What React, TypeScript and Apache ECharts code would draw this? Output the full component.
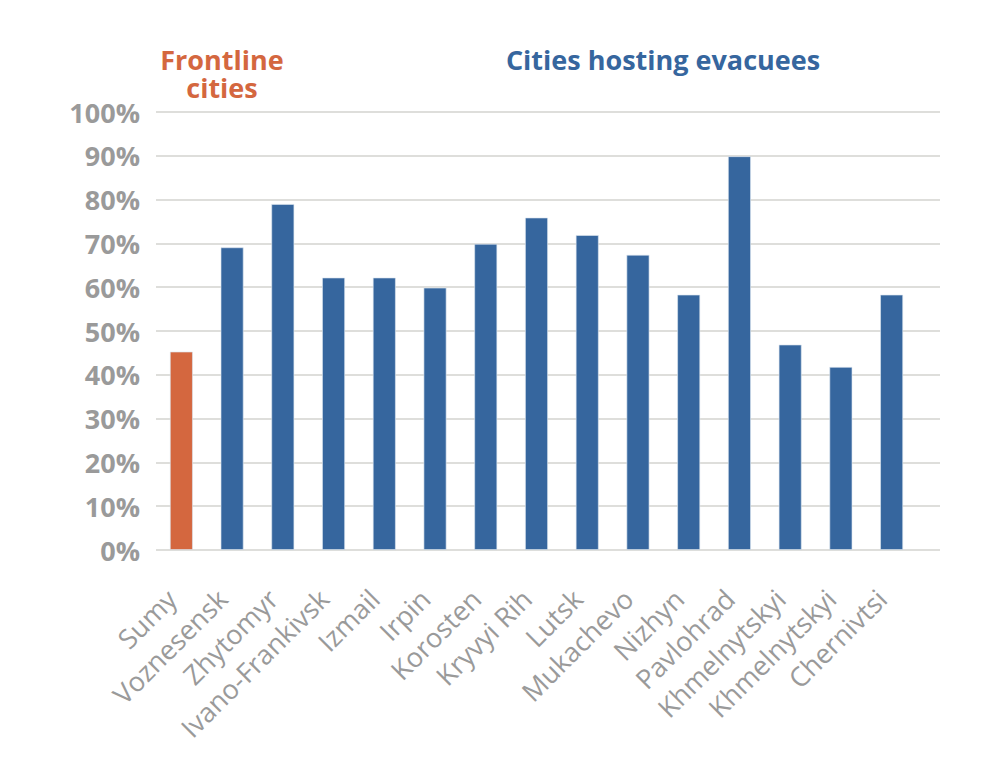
import React, { useEffect, useRef } from "react";
import * as echarts from "echarts";

const cities = [
  "Sumy",
  "Voznesensk",
  "Zhytomyr",
  "Ivano-Frankivsk",
  "Izmail",
  "Irpin",
  "Korosten",
  "Kryvyi Rih",
  "Lutsk",
  "Mukachevo",
  "Nizhyn",
  "Pavlohrad",
  "Khmelnytskyi",
  "Khmelnytskyi",
  "Chernivtsi",
];
const shares = [45.3, 69.1, 79.0, 62.2, 62.2, 59.9, 69.9, 75.9, 71.9, 67.4, 58.3, 89.9, 46.9, 41.8, 58.3];
const groupOf = ["frontline", "host", "host", "host", "host", "host", "host", "host", "host", "host", "host", "host", "host", "host", "host"];
const yTicks = [0, 10, 20, 30, 40, 50, 60, 70, 80, 90, 100];
const frontlineTitle = ["Frontline", "cities"];
const hostTitle = "Cities hosting evacuees";

const ORANGE = "#D4673F";
const BLUE = "#36669E";
const GRAY = "#9a9a9a";

export default function App() {
  const ref = useRef<HTMLDivElement>(null);
  useEffect(() => {
    if (!ref.current) return;
    const chart = echarts.init(ref.current, undefined, { renderer: "svg" });
    const yMin = yTicks[0];
    const yMax = yTicks[yTicks.length - 1];
    const titleStyle = (color: string) => ({
      color,
      fontFamily: "Open Sans",
      fontWeight: "bold",
      fontSize: 27,
      lineHeight: 27,
    });
    chart.setOption({
      animation: false,
      backgroundColor: "#ffffff",
      textStyle: { fontFamily: "Open Sans" },
      title: [
        { text: frontlineTitle[0], left: 222, top: 46, textAlign: "center", padding: 0, textStyle: titleStyle(ORANGE) },
        { text: frontlineTitle[1], left: 222, top: 74, textAlign: "center", padding: 0, textStyle: titleStyle(ORANGE) },
        { text: hostTitle, left: 663, top: 46, textAlign: "center", padding: 0, textStyle: titleStyle(BLUE) },
      ],
      grid: [
        { left: 156, right: 60, top: 112, bottom: 220, containLabel: false },
        { left: 156, right: 83, top: 112, bottom: 220, containLabel: false },
      ],
      xAxis: [
        {
          type: "value",
          gridIndex: 0,
          show: false,
        },
        {
          type: "category",
          gridIndex: 1,
          data: cities,
          axisLine: { show: false },
          axisTick: { show: false },
          axisLabel: {
            rotate: 45,
            interval: 0,
            margin: 34,
            padding: [0, 14, 0, 0],
            color: GRAY,
            fontFamily: "Open Sans",
            fontSize: 27,
          },
        },
      ],
      yAxis: [
        {
          type: "value",
          gridIndex: 0,
          min: yMin,
          max: yMax,
          interval: 10,
          axisLine: { show: false },
          axisTick: { show: false },
          splitLine: { lineStyle: { color: "#d3d3cf", width: 1.5 } },
          axisLabel: {
            margin: 16,
            color: GRAY,
            fontFamily: "Open Sans",
            fontWeight: "bold",
            fontSize: 27,
            formatter: (v: number) => `${v}%`,
          },
        },
        {
          type: "value",
          gridIndex: 1,
          min: yMin,
          max: yMax,
          interval: 10,
          show: false,
          splitLine: { show: false },
        },
      ],
      series: [
        {
          type: "bar",
          xAxisIndex: 1,
          yAxisIndex: 1,
          barWidth: 23,
          data: shares.map((v, i) => ({
            value: v,
            itemStyle: {
              color: groupOf[i] === "frontline" ? ORANGE : BLUE,
              borderColor: "rgba(220,230,240,0.8)",
              borderWidth: 0.8,
            },
          })),
        },
      ],
    });
    return () => chart.dispose();
  }, []);
  return <div ref={ref} style={{ width: 1000, height: 770, marginLeft: -8, marginTop: -8 }} />;
}
